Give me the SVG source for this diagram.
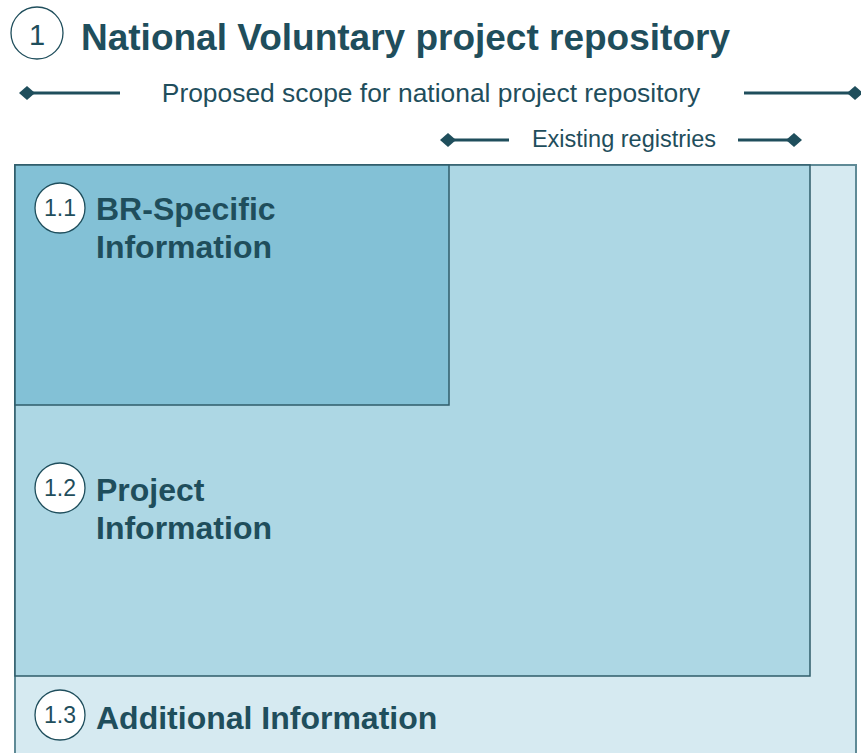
<svg xmlns="http://www.w3.org/2000/svg" width="861" height="753" viewBox="0 0 861 753">
<style>
.t{font-family:"Liberation Sans",Arial,sans-serif;fill:#1f4e5c}
.b{font-weight:bold}
.num{font-family:"Liberation Sans",Arial,sans-serif;fill:#1f4e5c;text-anchor:middle}
.circ{fill:#ffffff;stroke:#1f4e5c;stroke-width:1.3}
.ln{stroke:#1f4e5c;stroke-width:3;fill:none}
.dm{fill:#1f4e5c}
</style>
<rect width="861" height="753" fill="#ffffff"/>
<g id="title">
<circle class="circ" cx="37" cy="33" r="26"/>
<text class="num" x="37" y="45" font-size="29">1</text>
<text class="t b" x="81" y="50" font-size="37">National Voluntary project repository</text>
</g>
<g id="connectors">
<line class="ln" x1="27" y1="93" x2="120" y2="93"/>
<polygon class="dm" points="19,93 27,86 35,93 27,100"/>
<line class="ln" x1="744" y1="93" x2="855" y2="93"/>
<polygon class="dm" points="847,93 855,86 863,93 855,100"/>
<line class="ln" x1="448" y1="140" x2="509" y2="140"/>
<polygon class="dm" points="440,140 448,133 456,140 448,147"/>
<line class="ln" x1="738" y1="140" x2="794" y2="140"/>
<polygon class="dm" points="786,140 794,133 802,140 794,147"/>
</g>
<text class="t" x="431" y="102" font-size="26.4" text-anchor="middle">Proposed scope for national project repository</text>
<text class="t" x="624" y="147" font-size="23.5" text-anchor="middle">Existing registries</text>
<g id="box-1-3">
<rect x="15" y="165" width="841" height="600" fill="#d6eaf1" stroke="#5f8a96" stroke-width="2"/>
<circle class="circ" cx="60" cy="715" r="25"/>
<text class="num" x="60" y="723" font-size="23">1.3</text>
<text class="t b" x="96" y="729" font-size="32">Additional Information</text>
</g>
<g id="box-1-2">
<rect x="15" y="165" width="795" height="511" fill="#add7e4" stroke="#2f5c6a" stroke-width="1.5"/>
<circle class="circ" cx="60" cy="488" r="25"/>
<text class="num" x="60" y="496" font-size="23">1.2</text>
<text class="t b" x="96" y="501" font-size="32">Project</text>
<text class="t b" x="96" y="539" font-size="32">Information</text>
</g>
<g id="box-1-1">
<rect x="15" y="165" width="434" height="240" fill="#83c1d6" stroke="#2f5c6a" stroke-width="1.5"/>
<circle class="circ" cx="60" cy="208" r="25"/>
<text class="num" x="60" y="216" font-size="23">1.1</text>
<text class="t b" x="96" y="220" font-size="32">BR-Specific</text>
<text class="t b" x="96" y="258" font-size="32">Information</text>
</g>
</svg>
